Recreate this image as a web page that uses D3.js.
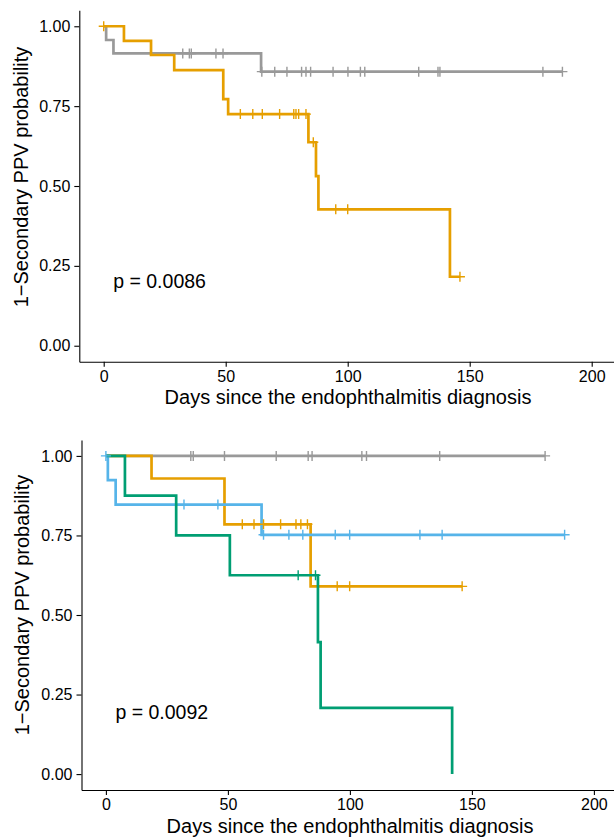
<!DOCTYPE html>
<html>
<head>
<meta charset="utf-8">
<script src="https://cdn.jsdelivr.net/npm/d3@7/dist/d3.min.js"></script>
<style>
  body { margin: 0; background: #fff; }
  svg { display: block; }
  text { font-family: "Liberation Sans", Arial, Helvetica, sans-serif; fill: #000; }
</style>
</head>
<body>
<svg></svg>
<script>
// ---- shared ----
var xTicks = [0, 50, 100, 150, 200];
var yTicks = [0, 0.25, 0.5, 0.75, 1];
var xTitle = 'Days since the endophthalmitis diagnosis';
var yTitle = '1\u2212Secondary PPV probability';
var groupColors = ['#999999', '#E69F00', '#56B4E9', '#009E73'];

// ---- top panel (2 groups) ----
var topGreyTime = [0, 1, 4, 64.5, 188];
var topGreySurv = [1, 0.957, 0.915, 0.858, 0.858];
var topGreyCens = [32.4, 35.1, 35.9, 46, 48.9, 64.8, 70.1, 75.1, 81.1, 82.9, 84.8, 94, 100.1, 105.2, 107, 129.1, 137, 137.8, 180, 188];

var topOrangeTime = [0, 8.3, 19.4, 28.9, 49, 51, 83.9, 87, 88, 141.9, 146];
var topOrangeSurv = [1, 0.954, 0.910, 0.863, 0.772, 0.725, 0.637, 0.531, 0.427, 0.216, 0.216];
var topOrangeCens = [0, 56, 61.1, 65, 72.1, 77.9, 78.8, 79.9, 82.9, 85.9, 95.1, 100, 146];

var topPval = 'p = 0.0086';

// ---- bottom panel (4 groups) ----
var botGreyTime = [0, 180];
var botGreySurv = [1, 1];
var botGreyCens = [34.8, 35.8, 48.6, 69.8, 82.9, 84.5, 104.9, 106.8, 136.8, 180];

var botOrangeTime = [0, 18.7, 48.6, 83.9, 146];
var botOrangeSurv = [1, 0.929, 0.785, 0.590, 0.590];
var botOrangeCens = [55.9, 60.7, 64.6, 71.6, 77.9, 79.9, 82.6, 94.8, 99.9, 146];

var botBlueTime = [0, 0.8, 4, 63.8, 188];
var botBlueSurv = [1, 0.924, 0.847, 0.752, 0.752];
var botBlueCens = [0, 32, 45.9, 64.6, 75, 80.7, 94, 99.9, 128.7, 137.8, 188];

var botGreenTime = [0, 7.8, 28.8, 50.8, 86.9, 88, 141.9];
var botGreenSurv = [1, 0.875, 0.750, 0.625, 0.415, 0.208, 0];
var botGreenCens = [78.8, 85.9];

var botPval = 'p = 0.0092';

var width = 614;
var height = 839;
var svg = d3.select('svg')
    .attr('width', width)
    .attr('height', height);

function survAt(times, surv, t) {
    var i = d3.bisectRight(times, t) - 1;
    return surv[Math.max(i, 0)];
}

function drawPanel(p) {
    var xScale = d3.scaleLinear()
        .domain([-10, 210])
        .range([p.left, p.left + 220 * 2.44]);
    var yScale = d3.scaleLinear()
        .domain([-0.05, 1.05])
        .range([p.bottom, p.top]);

    var g = svg.append('g');

    var xAxis = d3.axisBottom(xScale)
        .tickValues(xTicks)
        .tickFormat(d3.format('d'))
        .tickSizeInner(5)
        .tickSizeOuter(0)
        .tickPadding(4);
    var yAxis = d3.axisLeft(yScale)
        .tickValues(yTicks)
        .tickFormat(d3.format('.2f'))
        .tickSizeInner(5)
        .tickSizeOuter(0)
        .tickPadding(4);

    var gx = g.append('g')
        .attr('transform', `translate(0,${p.bottom})`)
        .call(xAxis);
    var gy = g.append('g')
        .attr('transform', `translate(${p.left},0)`)
        .call(yAxis);
    [gx, gy].forEach(function (a) {
        a.select('.domain').attr('stroke', '#000').attr('stroke-width', 1.1);
        a.selectAll('.tick line').attr('stroke', '#000').attr('stroke-width', 1.1);
        a.selectAll('.tick text')
            .attr('font-size', 16)
            .attr('font-family', '"Liberation Sans", Arial, sans-serif')
            .attr('fill', '#000');
    });

    g.append('text')
        .attr('x', p.xTitleX)
        .attr('y', p.bottom + 42.5)
        .attr('text-anchor', 'middle')
        .attr('font-size', 20)
        .text(xTitle);
    g.append('text')
        .attr('transform', `translate(${p.yTitleX},${p.yTitleY}) rotate(-90)`)
        .attr('text-anchor', 'middle')
        .attr('font-size', 20)
        .text(yTitle);

    var line = d3.line()
        .curve(d3.curveStepAfter)
        .x(d => xScale(d[0]))
        .y(d => yScale(d[1]));

    // step lines first, censor marks on top (as in survminer)
    p.curves.forEach(function (c) {
        var pts = c.time.map((t, i) => [t, c.surv[i]]);
        g.append('path')
            .datum(pts)
            .attr('d', line)
            .attr('fill', 'none')
            .attr('stroke', c.color)
            .attr('stroke-width', 2.7);
    });
    p.curves.forEach(function (c) {
        g.selectAll(null)
            .data(c.cens)
            .enter().append('path')
            .attr('d', function (t) {
                var cx = xScale(t), cy = yScale(survAt(c.time, c.surv, t));
                return `M${cx - 5},${cy}h10M${cx},${cy - 5}v10`;
            })
            .attr('fill', 'none')
            .attr('stroke', c.color)
            .attr('stroke-width', 1.4);
    });

    g.append('text')
        .attr('x', xScale(p.pvalAt[0]))
        .attr('y', yScale(p.pvalAt[1]))
        .attr('font-size', 19.5)
        .text(p.pval);
}

drawPanel({
    left: 79.3, top: 10.3, bottom: 361.7,
    xTitleX: 348, yTitleX: 28, yTitleY: 177,
    pval: topPval, pvalAt: [3.9, 0.18],
    curves: [
        { time: topGreyTime, surv: topGreySurv, cens: topGreyCens, color: groupColors[0] },
        { time: topOrangeTime, surv: topOrangeSurv, cens: topOrangeCens, color: groupColors[1] }
    ]
});

drawPanel({
    left: 81.5, top: 440, bottom: 790,
    xTitleX: 350, yTitleX: 29, yTitleY: 605,
    pval: botPval, pvalAt: [3.9, 0.174],
    curves: [
        { time: botGreyTime, surv: botGreySurv, cens: botGreyCens, color: groupColors[0] },
        { time: botOrangeTime, surv: botOrangeSurv, cens: botOrangeCens, color: groupColors[1] },
        { time: botBlueTime, surv: botBlueSurv, cens: botBlueCens, color: groupColors[2] },
        { time: botGreenTime, surv: botGreenSurv, cens: botGreenCens, color: groupColors[3] }
    ]
});
</script>
</body>
</html>
